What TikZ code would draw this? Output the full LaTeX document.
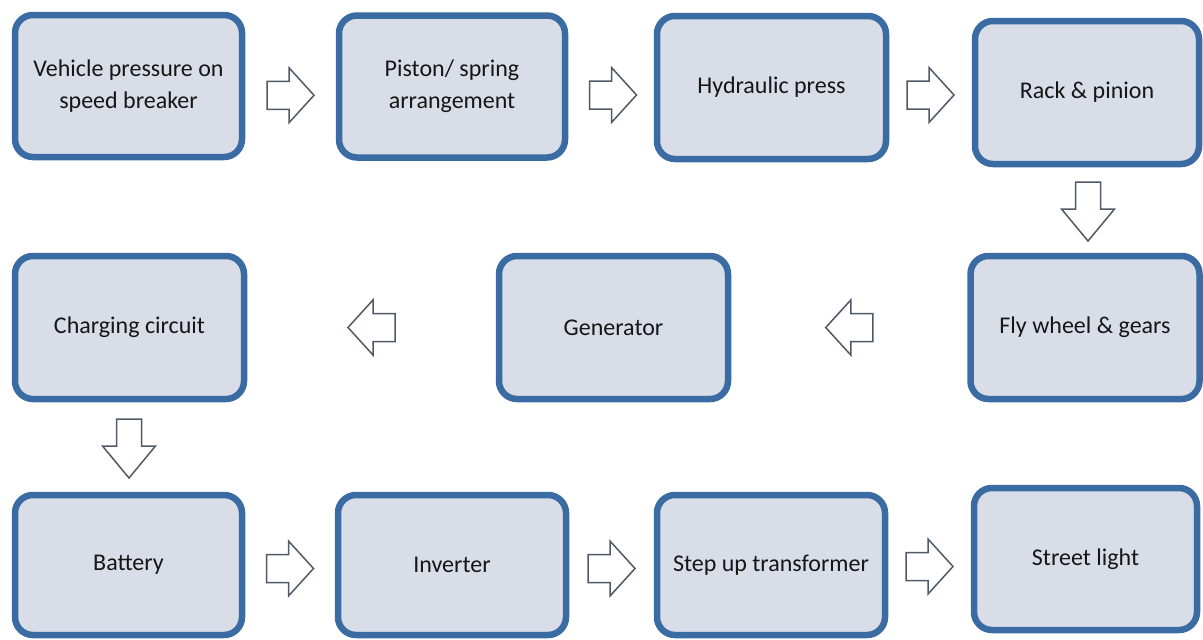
\documentclass[tikz,border=0pt]{standalone}
\usepackage{fontspec}
\setmainfont{Carlito}
\usetikzlibrary{calc}
\definecolor{boxborder}{RGB}{58,108,163}
\definecolor{boxfill}{RGB}{216,221,232}
\definecolor{arrline}{RGB}{80,90,102}
\definecolor{txt}{RGB}{22,22,22}
\tikzset{
  stepbox/.style={draw=boxborder, fill=boxfill, line width=6.5pt, rounded corners=18pt,
    minimum width=226pt, minimum height=142pt, inner sep=0pt, align=center,
    text=txt, font=\fontsize{24}{32}\selectfont},
  arrstyle/.style={draw=arrline, fill=white, line width=1.5pt, line join=miter},
  pics/harr/.style={code={
    \draw[arrstyle] (-23.5,-14) -- (-1.5,-14) -- (-1.5,-27.5) -- (23.5,0)
      -- (-1.5,27.5) -- (-1.5,14) -- (-23.5,14) -- cycle;}},
  pics/varr/.style={code={
    \draw[arrstyle] (-29.5,-12.5) -- (-2.5,-12.5) -- (-2.5,-26.5) -- (29.5,0)
      -- (-2.5,26.5) -- (-2.5,12.5) -- (-29.5,12.5) -- cycle;}}
}
\begin{document}
\begin{tikzpicture}[x=1pt,y=-1pt]
\useasboundingbox (0,0) rectangle (1203,640);
\fill[white] (0,0) rectangle (1203,640);
% row 1
\node[stepbox, minimum width=227pt] (b1) at (128.5,86) {Vehicle pressure on\\speed breaker};
\node[stepbox] (b2) at (452,86.5) {Piston/ spring\\arrangement};
\node[stepbox, minimum width=229pt, minimum height=143pt] (b3) at (771.5,87.5) {Hydraulic press};
\node[stepbox, minimum width=224pt, minimum height=143pt] (b4) at (1087,92.5) {Rack \& pinion};
% row 2
\node[stepbox, minimum width=229pt, minimum height=143pt] (b5) at (1085,327.5) {Fly wheel \& gears};
\node[stepbox, minimum width=229pt, minimum height=143pt] (b6) at (613.5,327.5) {Generator};
\node[stepbox, minimum width=229pt, minimum height=143pt] (b7) at (129.5,327.5) {Charging circuit};
% row 3
\node[stepbox, minimum width=227pt, minimum height=140pt] (b8) at (128.5,565) {Battery};
\node[stepbox, minimum width=228pt, minimum height=140pt] (b9) at (452,565) {Inverter};
\node[stepbox, minimum width=228pt, minimum height=140pt] (b10) at (771,565) {Step up transformer};
\node[stepbox, minimum width=223pt, minimum height=142pt] (b11) at (1085.5,559) {Street light};
% arrows
\path ($(b1.east)!0.5!(b2.west)+(0,9)$) pic {harr};
\path ($(b2.east)!0.5!(b3.west)+(2,8)$) pic {harr};
\path ($(b3.east)!0.5!(b4.west)+(0,5)$) pic {harr};
\path ($(b4.south)!0.5!(b5.north)+(2,1.5)$) pic[rotate=-90] {varr};
\path ($(b5.west)!0.5!(b6.east)$) pic[rotate=180] {harr};
\path ($(b6.west)!0.5!(b7.east)$) pic[rotate=180] {harr};
\path ($(b7.south)!0.5!(b8.north)+(0,1.5)$) pic[rotate=-90] {varr};
\path ($(b8.east)!0.5!(b9.west)+(0,3.5)$) pic {harr};
\path ($(b9.east)!0.5!(b10.west)+(0,3.5)$) pic {harr};
\path ($(b10.east)!0.5!(b11.west)+(0,4.5)$) pic {harr};
\end{tikzpicture}
\end{document}
